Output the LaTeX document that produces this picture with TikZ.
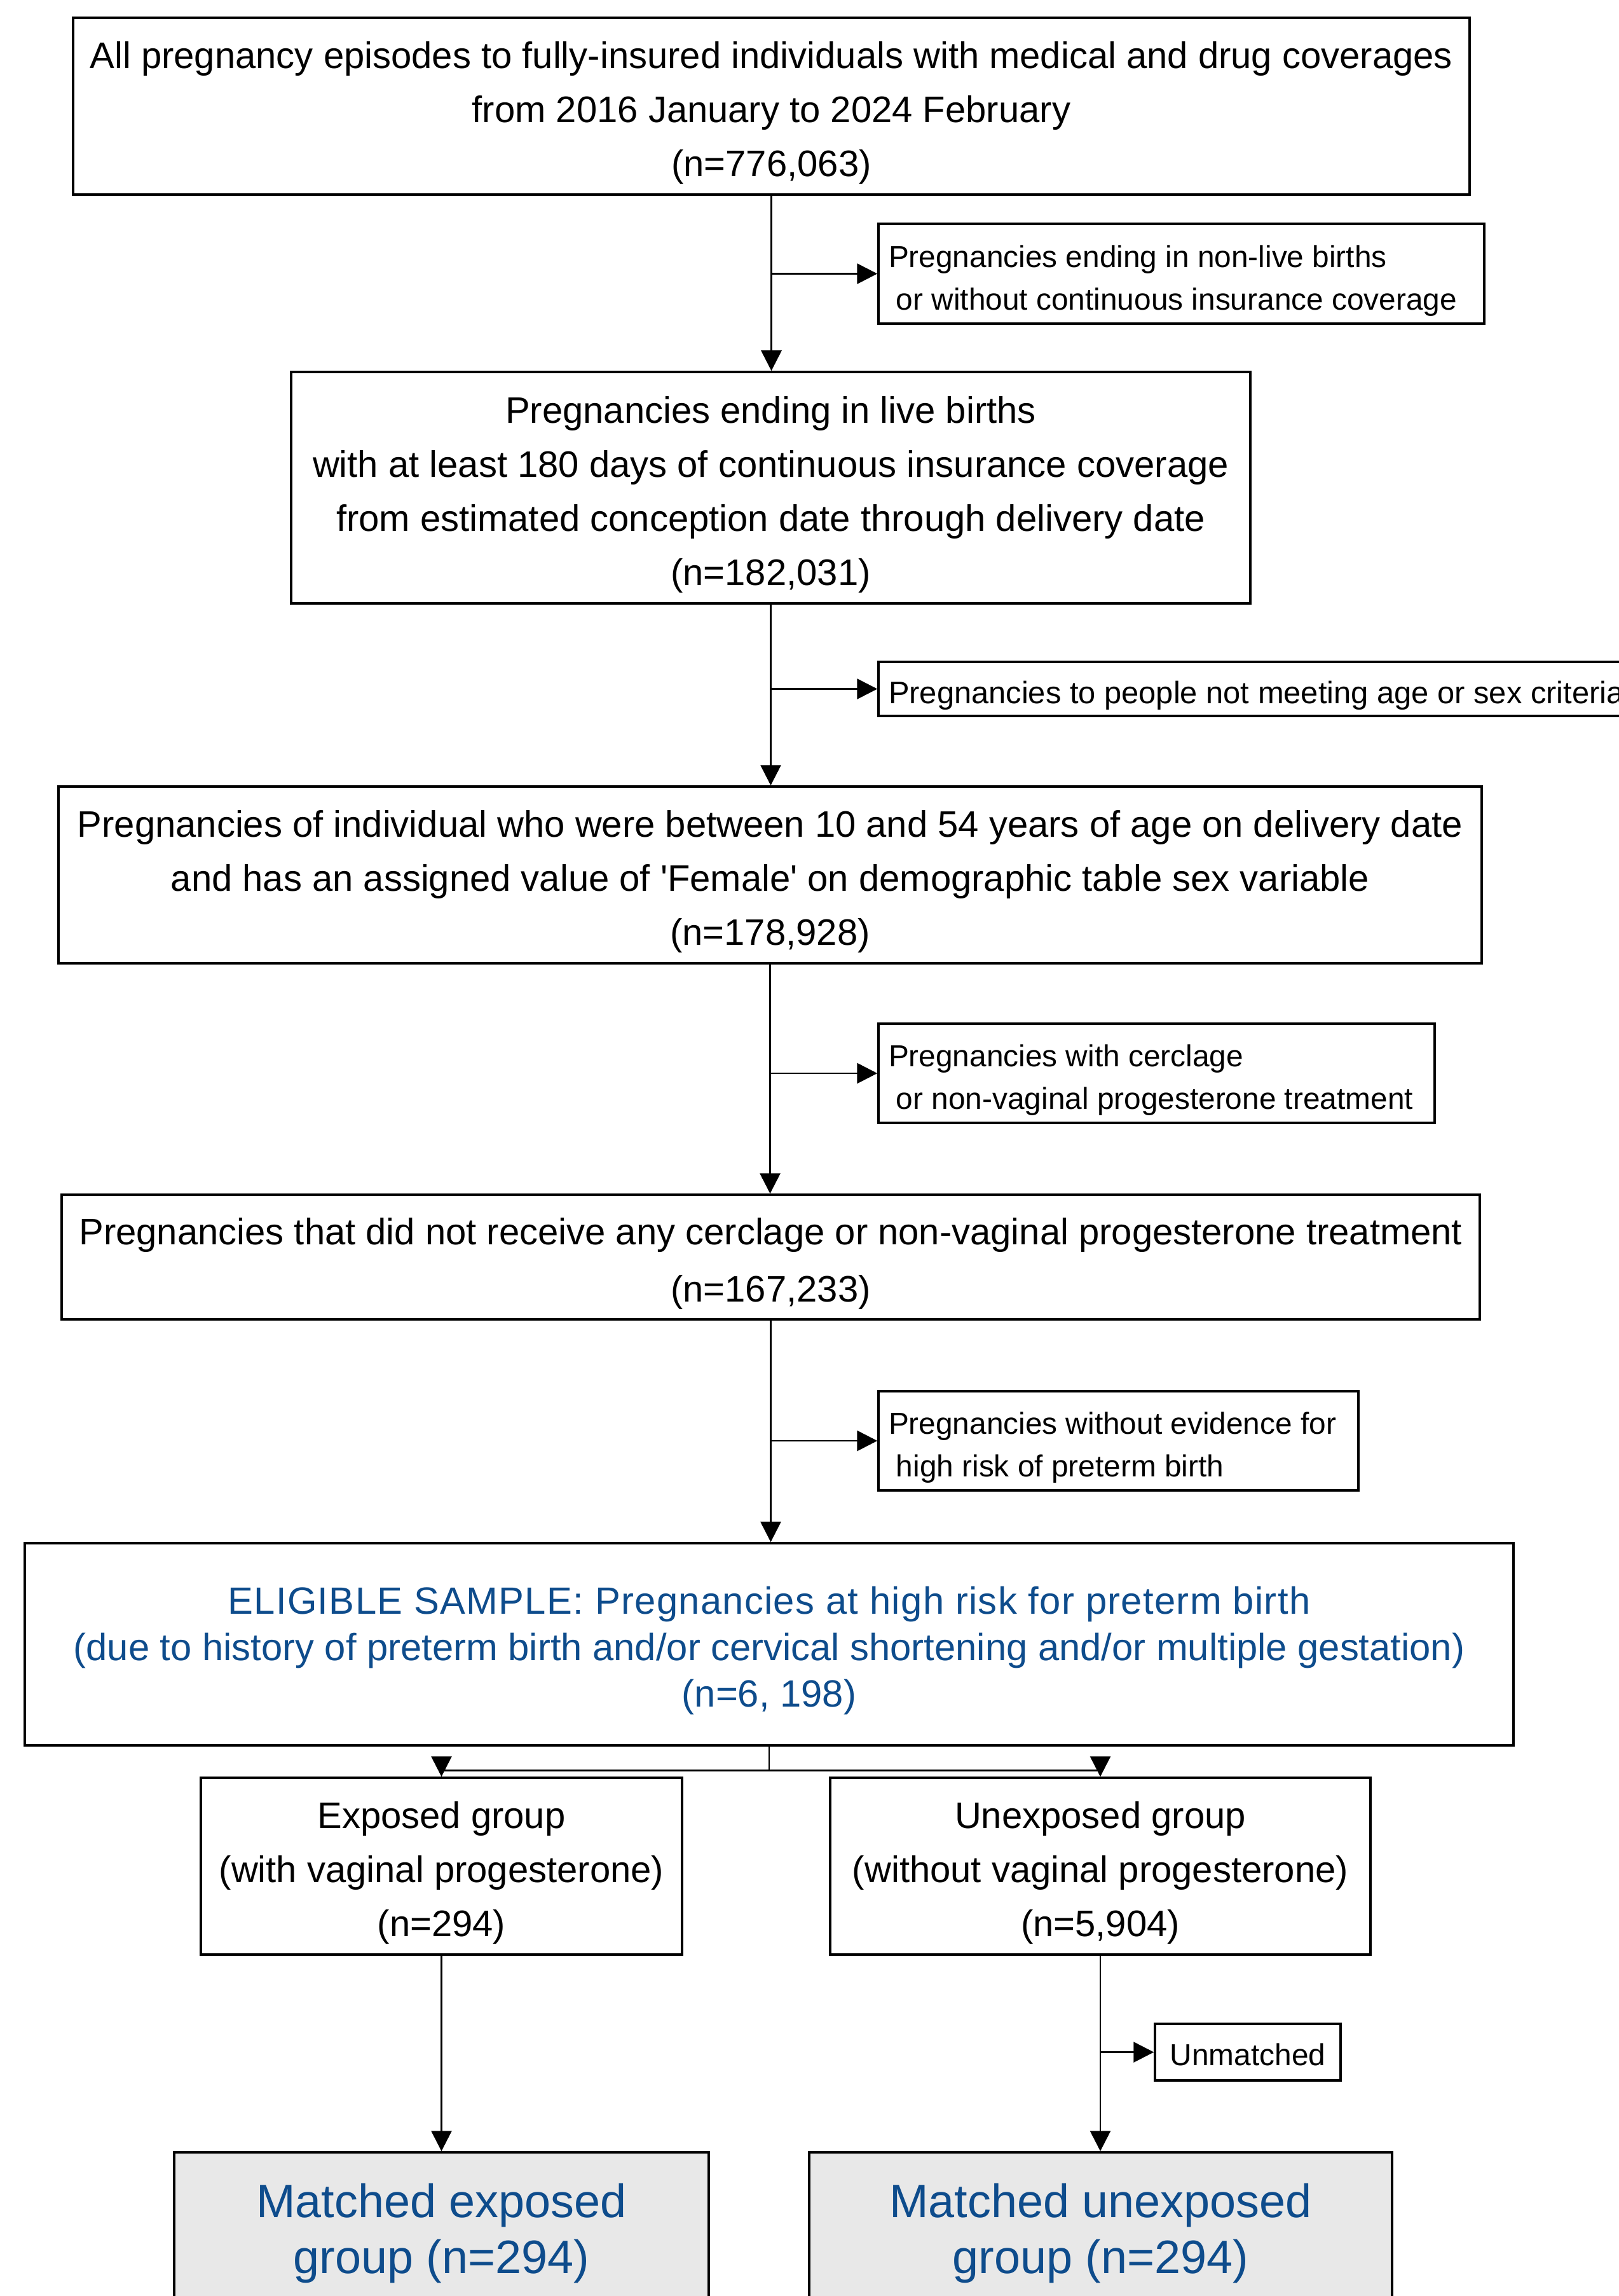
\documentclass[tikz,border=0pt]{standalone}
\usepackage{fontspec}
\setmainfont{Liberation Sans}
\usepackage{tikz}
\usepackage{xcolor}
\usetikzlibrary{arrows.meta}
\definecolor{sampleblue}{RGB}{14,76,140}
\definecolor{matchgrey}{RGB}{232,232,232}

\tikzset{
    box/.style={draw, line width=1pt, align=flush center, inner sep=0pt,
        execute at begin node={\rule{0pt}{18pt}},
        font=\fontsize{16.5}{24.2}\selectfont},
    sidebox/.style={draw, line width=1pt, align=flush left, inner xsep=0.16cm, inner ysep=0pt,
        execute at begin node={\rule{0pt}{16pt}},
        font=\fontsize{13.6}{19}\selectfont},
    matchbox/.style={box, fill=matchgrey, text=sampleblue,
        execute at begin node={\rule{0pt}{19.3pt}},
        font=\fontsize{21}{25}\selectfont},
    flow/.style={line width=0.8pt, -{Triangle[length=0.32cm, width=0.32cm]}},
}

\begin{document}
\begin{tikzpicture}
    \useasboundingbox (0,0) rectangle (25.47,-36.11);

    % main chain
    \node[box, text width=21.97cm, minimum height=2.78cm] (all) at (12.135,-1.67)
        {All pregnancy episodes to fully-insured individuals with medical and drug coverages\\
         from 2016 January to 2024 February\\ (n=776,063)};
    \node[box, text width=15.09cm, minimum height=3.64cm] (live) at (12.125,-7.67)
        {Pregnancies ending in live births\\
         with at least 180 days of continuous insurance coverage\\
         from estimated conception date through delivery date\\ (n=182,031)};
    \node[box, text width=22.39cm, minimum height=2.78cm] (age) at (12.115,-13.76)
        {Pregnancies of individual who were between 10 and 54 years of age on delivery date\\
         and has an assigned value of \textquotesingle Female\textquotesingle{} on demographic table sex variable\\ (n=178,928)};
    \node[box, text width=22.31cm, minimum height=1.96cm,
        font=\fontsize{16.5}{25.6}\selectfont] (nocerc) at (12.125,-19.77)
        {Pregnancies that did not receive any cerclage or non-vaginal progesterone treatment\\
         (n=167,233)};
    \node[box, text=sampleblue, text width=23.42cm, minimum height=3.18cm,
        font=\fontsize{17}{20.7}\selectfont] (elig) at (12.10,-25.86)
        {{\addfontfeature{LetterSpace=2.2}ELIGIBLE SAMPLE: Pregnancies at high risk for preterm birth}\\
         (due to history of preterm birth and/or cervical shortening and/or multiple gestation)\\
         (n=6, 198)};

    % exclusions
    \node[sidebox, minimum width=9.53cm, text width=9.21cm, minimum height=1.57cm] (ex1) at (18.585,-4.305)
        {Pregnancies ending in non-live births\\ \hspace*{0.25em}or without continuous insurance coverage};
    \node[sidebox, minimum width=15cm, text width=14.68cm, minimum height=0.85cm,
        execute at begin node={\rule{0pt}{12.5pt}},
        font=\fontsize{13.9}{19}\selectfont] (ex2) at (21.32,-10.835)
        {Pregnancies to people not meeting age or sex criteria};
    \node[sidebox, minimum width=8.75cm, text width=8.43cm, minimum height=1.56cm] (ex3) at (18.195,-16.88)
        {Pregnancies with cerclage\\ \hspace*{0.25em}or non-vaginal progesterone treatment};
    \node[sidebox, minimum width=7.55cm, text width=7.23cm, minimum height=1.56cm] (ex4) at (17.595,-22.66)
        {Pregnancies without evidence for\\ \hspace*{0.25em}high risk of preterm birth};

    % groups
    \node[box, text width=7.57cm, minimum height=2.78cm] (exp) at (6.945,-29.35)
        {Exposed group\\ (with vaginal progesterone)\\ (n=294)};
    \node[box, text width=8.50cm, minimum height=2.78cm] (unexp) at (17.31,-29.35)
        {Unexposed group\\ (without vaginal progesterone)\\ (n=5,904)};
    \node[sidebox, align=flush center, inner xsep=0pt, text width=2.92cm,
        execute at begin node={\rule{0pt}{10pt}},
        execute at end node={\rule[-4pt]{0pt}{4pt}},
        minimum height=0.89cm] (unm) at (19.63,-32.275)
        {Unmatched};
    \node[matchbox, text width=8.41cm, minimum height=2.40cm] (mexp) at (6.945,-35.05)
        {Matched exposed\\ group (n=294)};
    \node[matchbox, text width=9.17cm, minimum height=2.40cm] (munexp) at (17.315,-35.05)
        {Matched unexposed\\ group (n=294)};

    % connectors
    \draw[flow] (all.south) -- (all.south |- live.north);
    \draw[flow] (live.south) -- (live.south |- age.north);
    \draw[flow] (age.south) -- (age.south |- nocerc.north);
    \draw[flow] (nocerc.south) -- (nocerc.south |- elig.north);
    \draw[flow] (all.south |- ex1.west) -- (ex1.west);
    \draw[flow] (live.south |- ex2.west) -- (ex2.west);
    \draw[flow] (age.south |- ex3.west) -- (ex3.west);
    \draw[flow] (nocerc.south |- ex4.west) -- (ex4.west);

    \draw[line width=0.8pt] (elig.south) -- ++(0,-0.38) coordinate (fork);
    \draw[line width=0.8pt] (exp.north |- fork) -- (unexp.north |- fork);
    \draw[flow] (exp.north |- fork) -- (exp.north);
    \draw[flow] (unexp.north |- fork) -- (unexp.north);

    \draw[flow] (exp.south) -- (mexp.north);
    \draw[flow] (unexp.south) -- (unexp.south |- munexp.north);
    \draw[flow] (unexp.south |- unm.west) -- (unm.west);
\end{tikzpicture}
\end{document}
